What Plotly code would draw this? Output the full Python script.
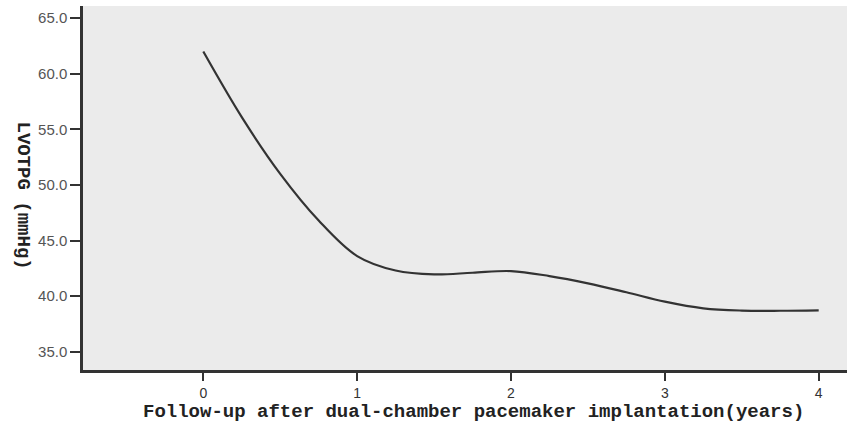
import plotly.graph_objects as go

years = [0, 0.25, 0.5, 0.75, 1.0, 1.25, 1.5, 1.75, 2.0, 2.25, 2.5, 2.75, 3.0, 3.25, 3.5, 3.75, 4.0]
lvotpg = [62.0, 56.1, 51.0, 46.8, 43.6, 42.3, 41.95, 42.1, 42.25, 41.8, 41.15, 40.35, 39.5, 38.9, 38.7, 38.68, 38.72]

x_ticks = [0, 1, 2, 3, 4]
y_ticks = [35, 40, 45, 50, 55, 60, 65]
y_tick_labels = ["35.0", "40.0", "45.0", "50.0", "55.0", "60.0", "65.0"]

fig = go.Figure()
fig.add_trace(go.Scatter(
    x=years, y=lvotpg, mode="lines",
    line=dict(color="#333333", width=2.2, shape="spline", smoothing=1.0),
    hoverinfo="skip", showlegend=False,
))

fig.update_layout(
    width=847, height=433,
    margin=dict(l=83, r=0, t=6, b=63),
    paper_bgcolor="white",
    plot_bgcolor="#ebebeb",
    xaxis=dict(
        range=[-0.782, 4.184], tickmode="array", tickvals=x_ticks,
        ticktext=[str(v) for v in x_ticks],
        showgrid=False, zeroline=False,
        showline=True, linecolor="#333333", linewidth=2.5,
        ticks="outside", ticklen=8, tickwidth=2, tickcolor="#333333",
        tickfont=dict(family="Liberation Sans Narrow, Arial", size=14, color="#333333"),
    ),
    yaxis=dict(
        range=[33.35, 66.1], tickmode="array", tickvals=y_ticks,
        ticktext=y_tick_labels,
        showgrid=False, zeroline=False,
        showline=True, linecolor="#333333", linewidth=2.5,
        ticks="outside", ticklen=10, tickwidth=2, tickcolor="#333333",
        tickfont=dict(family="Liberation Sans, Arial", size=15, color="#555555"),
    ),
    annotations=[
        dict(text="<b>Follow-up after dual-chamber pacemaker implantation(years)</b>",
             xref="paper", yref="paper", x=(473 - 83) / 764, y=-(412 - 370) / 364,
             xanchor="center", yanchor="middle", showarrow=False,
             font=dict(family="Liberation Mono", size=19, color="#222222")),
        dict(text="<b>LVOTPG (mmHg)</b>",
             xref="paper", yref="paper", x=-(83 - 22) / 764, y=(370 - 195.5) / 364,
             xanchor="center", yanchor="middle", showarrow=False, textangle=90,
             font=dict(family="Liberation Mono", size=19, color="#222222")),
    ],
)

fig.write_html("out.html")
